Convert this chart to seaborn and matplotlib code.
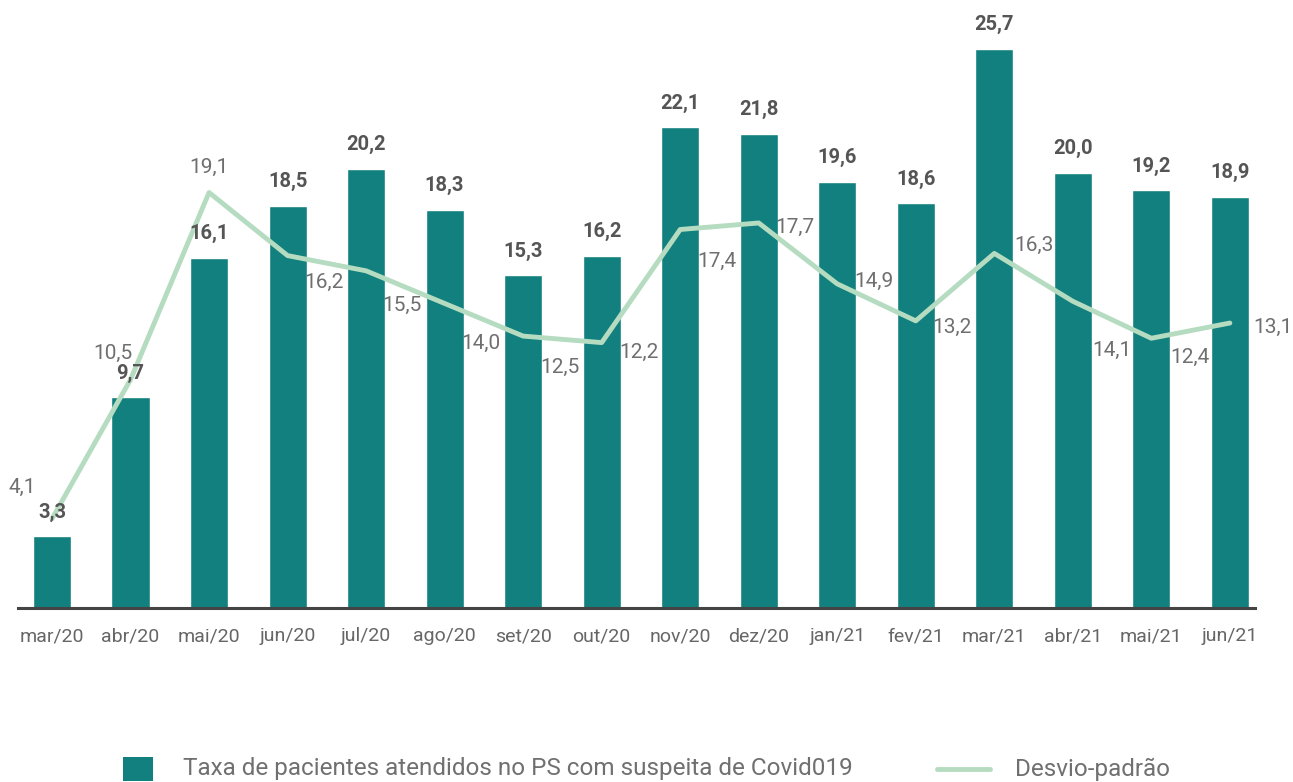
import seaborn as sns
import matplotlib.pyplot as plt
import pandas as pd
from matplotlib.patches import Rectangle
from matplotlib.lines import Line2D

months = ['mar/20', 'abr/20', 'mai/20', 'jun/20', 'jul/20', 'ago/20', 'set/20', 'out/20',
          'nov/20', 'dez/20', 'jan/21', 'fev/21', 'mar/21', 'abr/21', 'mai/21', 'jun/21']
taxa = [3.3, 9.7, 16.1, 18.5, 20.2, 18.3, 15.3, 16.2, 22.1, 21.8, 19.6, 18.6, 25.7, 20.0, 19.2, 18.9]
desvio = [4.1, 10.5, 19.1, 16.2, 15.5, 14.0, 12.5, 12.2, 17.4, 17.7, 14.9, 13.2, 16.3, 14.1, 12.4, 13.1]

# label offsets for the line values (pixels)
desvio_offsets = [(-30, 31), (-18, 26), (0, 25), (36, -27), (36, -35), (36, -40), (37, -31), (37, -10),
                  (37, -32), (36, -4), (37, 2), (36, -7), (40, 8), (39, -49), (39, -19), (43, -4)]

teal = '#12807E'
green = '#B5DCC0'

df = pd.DataFrame({'mes': months, 'taxa': taxa, 'desvio': desvio, 'pos': range(len(months))})

sns.set_style('white')
plt.rcParams['font.family'] = ['Roboto', 'DejaVu Sans']

W, H = 1293, 782
fig = plt.figure(figsize=(W / 100, H / 100), dpi=100)
ax = fig.add_axes([18 / W, 174 / H, 1237 / W, 608 / H])

sns.barplot(data=df, x='mes', y='taxa', color=teal, width=0.485, saturation=1, ax=ax)
sns.lineplot(data=df, x='pos', y='desvio', color=green, linewidth=3.5, ax=ax)

for i, v in enumerate(taxa):
    ax.annotate(f'{v:.1f}'.replace('.', ','), (i, v), xytext=(0, 24), textcoords='offset pixels',
                ha='center', va='center', fontsize=14.5, fontweight='bold', color='#555555')

for i, v in enumerate(desvio):
    dx, dy = desvio_offsets[i]
    ax.annotate(f'{v:.1f}'.replace('.', ','), (i, v), xytext=(dx, dy), textcoords='offset pixels',
                ha='center', va='center', fontsize=15, color='#6f6f6f',
                annotation_clip=False)

ax.set_xlim(-0.433, 15.32)
ax.set_ylim(0, 27.95)
ax.set_xlabel('')
ax.set_ylabel('')
ax.set_yticks([])
ax.set_xticks(range(len(months)))
ax.set_xticklabels(months, fontsize=14, color='#666666')
ax.tick_params(axis='x', length=0, pad=14)
for s in ['top', 'left', 'right']:
    ax.spines[s].set_visible(False)
ax.spines['bottom'].set_color('#444444')
ax.spines['bottom'].set_linewidth(2.2)

# legend drawn by hand (square patch and line handle have different sizes)
ly = 1 - 769 / H
fig.add_artist(Rectangle((123 / W, 1 - 781 / H), 30 / W, 24 / H, transform=fig.transFigure,
                         facecolor=teal, edgecolor='none'))
fig.text(183 / W, ly, 'Taxa de pacientes atendidos no PS com suspeita de Covid019',
         fontsize=17.5, color='#707070', va='center', ha='left')
fig.add_artist(Line2D([937 / W, 990 / W], [ly, ly], transform=fig.transFigure,
                      color=green, linewidth=3.5))
fig.text(1015 / W, ly, 'Desvio-padrão', fontsize=17.5, color='#707070',
         va='center', ha='left')

fig.savefig('out.png', dpi=100)
